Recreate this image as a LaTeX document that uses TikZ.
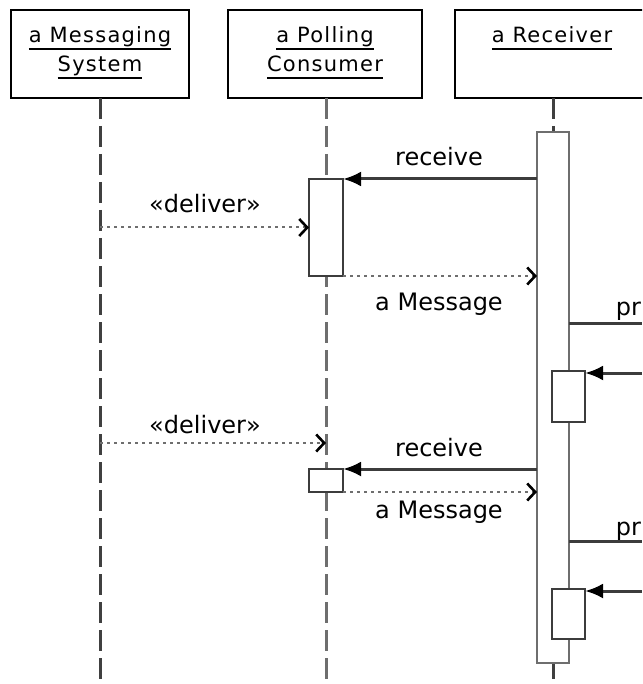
\documentclass[tikz,border=0pt]{standalone}
\usepackage{fontspec}
\setmainfont{DejaVu Sans}
\newfontfamily\objfont[LetterSpace=6]{DejaVu Sans}
\usetikzlibrary{arrows.meta,positioning}

\definecolor{linegray}{HTML}{3C3C3C}
\definecolor{lifegray}{HTML}{404040}
\definecolor{dotgray}{HTML}{6E6E6E}

% underlined object name, rule at a fixed depth
\newcommand{\objlabel}[1]{\setbox0\hbox{#1}\rlap{\rule[-7pt]{\wd0}{2pt}}\box0}

\begin{document}
\begin{tikzpicture}[
  x=1pt, y=-1pt,
  every node/.style={inner sep=0pt, outer sep=0pt},
  objbox/.style={draw=black, line width=2.2pt, minimum width=#1, minimum height=88pt},
  objname/.style={font=\objfont\fontsize{21}{29}\selectfont, align=center, anchor=base},
  lifeline/.style={draw=lifegray, line width=3pt, dash pattern=on 21pt off 7pt},
  actbox/.style={draw=linegray, fill=white, line width=2.2pt, minimum width=34pt, minimum height=#1},
  call/.style={draw=linegray, line width=3pt, -{Latex[length=18pt, width=15pt, color=black]}},
  callline/.style={draw=linegray, line width=3pt},
  reply/.style={draw=dotgray, line width=2pt, dash pattern=on 3pt off 4pt,
                -{Straight Barb[length=8pt, width=17pt, line width=2.6pt, color=black]}},
  msg/.style={font=\fontsize{24}{28}\selectfont, anchor=base}
]
\clip (0,0) rectangle (642,684);

% objects
\node[objbox=178pt] (msgsys)   at (100,54) {};
\node[objbox=194pt] (consumer) at (325,54) {};
\node[objbox=196pt] (receiver) at (553,54) {};
\node[objname] (msgsysname)   at (100,72) {\objlabel{a Messaging}\\\objlabel{System}};
\node[objname] (consumername) at (325,72) {\objlabel{a Polling}\\\objlabel{Consumer}};
\node[objname] (receivername) at (552,43) {\objlabel{a Receiver}};

\coordinate (msgsysend) at (100,684);
\coordinate (consend)   at (326,684);
\coordinate (rcvend)    at (553,684);

% lifelines
\draw[lifeline] (msgsys.south) -- (msgsysend);
\draw[lifeline, draw=dotgray] (consumer.south -| consend) -- (consend);
\draw[lifeline] (receiver.south) -- (rcvend);

% activations
\node[actbox=531pt, minimum width=32pt, draw=dotgray] (rcvbar) at (553,397.5) {};
\node[actbox=97pt] (cons1) at (326,227.5) {};
\node[actbox=23pt] (cons2) at (326,480.5) {};
\node[actbox=51pt, minimum width=33pt] (self1) at (568.5,396.5) {};
\node[actbox=50pt, minimum width=33pt] (self2) at (568.5,614) {};

\coordinate (pr1end)  at (642,323);
\coordinate (pr2end)  at (642,541);
\coordinate (in1)     at (642,373);
\coordinate (in2)     at (642,591);
\coordinate (dlv2)    at (326,443);

% first poll
\draw[call]  (rcvbar.west |- cons1.north) -- (cons1.north east);
\draw[reply] (msgsys.south |- cons1.west) -- (cons1.west);
\draw[reply] (cons1.south east) -- (rcvbar.west |- cons1.south east);
\draw[callline] (rcvbar.east |- pr1end) -- (pr1end);
\draw[call]  (in1) -- (self1.east |- in1);

% second poll
\draw[reply] (msgsys.south |- dlv2) -- (dlv2);
\draw[call]  (rcvbar.west |- cons2.north) -- (cons2.north east);
\draw[reply] (cons2.south east) -- (rcvbar.west |- cons2.south east);
\draw[callline] (rcvbar.east |- pr2end) -- (pr2end);
\draw[call]  (in2) -- (self2.east |- in2);

% labels
\node[msg] (deliver1) at (205,213) {«deliver»};
\node[msg] (receive1) at (439,166) {receive};
\node[msg] (message1) at (439,310) {a Message};
\node[msg, anchor=base east] (pr1) at (641,315) {pr};
\node[msg] (deliver2) at (205,433) {«deliver»};
\node[msg] (receive2) at (439,456) {receive};
\node[msg] (message2) at (439,518) {a Message};
\node[msg, anchor=base east] (pr2) at (641,535) {pr};
\end{tikzpicture}
\end{document}
